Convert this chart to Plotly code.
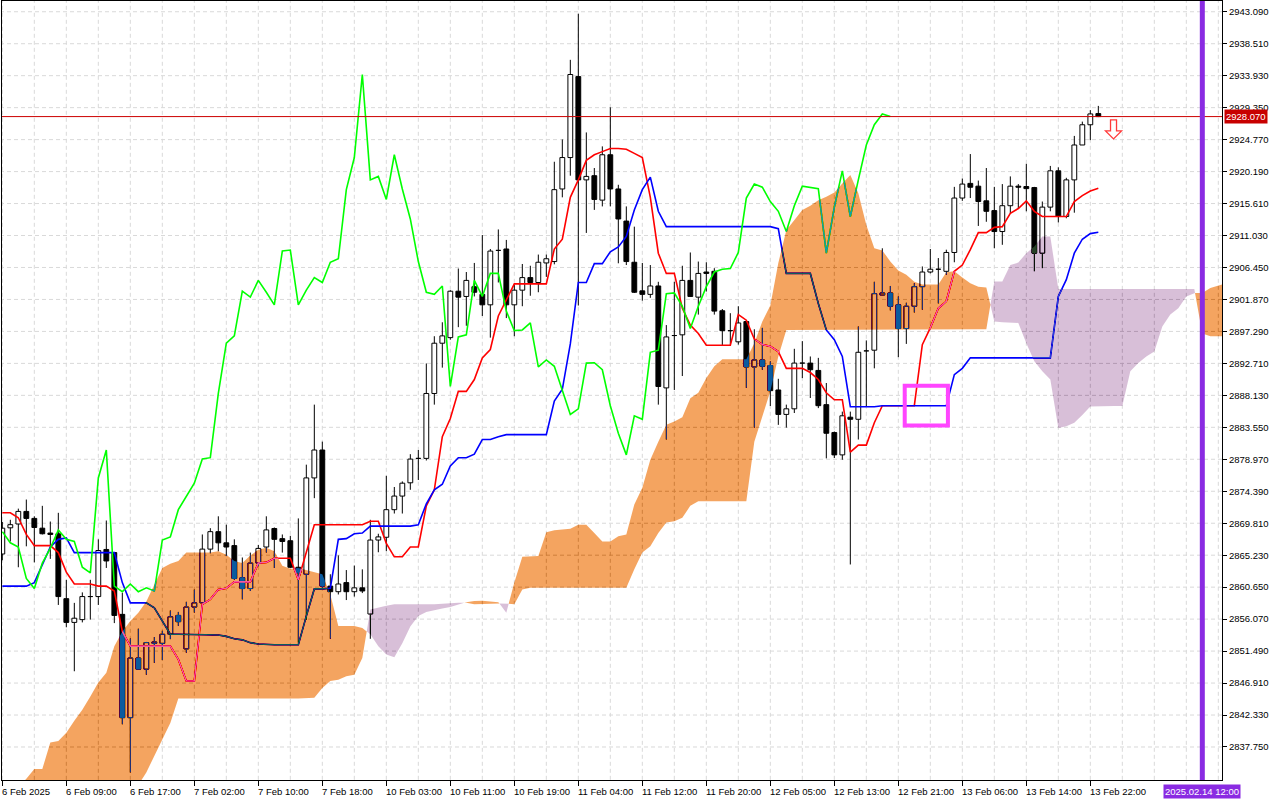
import plotly.graph_objects as go

# ---------------- data (hourly XAUUSD, bars indexed 0..137) ----------------
opens = [2865.4, 2869.15, 2869.7, 2871.5, 2870.5, 2869.1, 2868.4, 2868.3, 2859.0, 2855.6,
         2856.0, 2859.3, 2859.3, 2866.05, 2865.6, 2856.75, 2841.95, 2850.5, 2848.9, 2852.6,
         2852.6, 2853.9, 2856.6, 2851.8, 2857.8, 2858.4, 2866.1, 2868.6, 2867.0, 2866.6,
         2862.0, 2860.45, 2864.1, 2866.4, 2869.05, 2867.6, 2867.3, 2863.5, 2862.5, 2876.3,
         2880.3, 2860.8, 2860.0, 2861.3, 2860.0, 2860.55, 2856.8, 2867.4, 2867.8, 2871.75,
         2873.7, 2875.6, 2879.1, 2879.1, 2888.4, 2895.6, 2896.4, 2903.05, 2902.3, 2903.7,
         2902.6, 2901.1, 2908.9, 2909.1, 2901.1, 2903.2, 2905.0, 2904.3, 2907.1, 2907.3,
         2917.7, 2922.2, 2933.8, 2919.0, 2919.6, 2916.1, 2922.6, 2917.7, 2913.1, 2907.2,
         2903.1, 2902.6, 2903.8, 2889.2, 2896.7, 2896.8, 2904.6, 2902.2, 2905.8, 2905.9,
         2900.25, 2897.4, 2895.8, 2898.7, 2892.2, 2893.2, 2892.4, 2888.9, 2885.4, 2886.2,
         2892.75, 2892.75, 2891.7, 2886.8, 2882.8, 2879.6, 2885.0, 2884.7, 2894.5, 2894.6,
         2902.5, 2902.8, 2901.1, 2897.7, 2900.9, 2903.7, 2905.8, 2906.2, 2905.9, 2908.6,
         2916.4, 2918.5, 2918.1, 2916.0, 2914.6, 2911.6, 2915.3, 2918.1, 2918.05, 2917.9,
         2908.5, 2915.1, 2920.3, 2913.75, 2919.0, 2924.0, 2926.9, 2928.5]
highs = [2870.0, 2870.3, 2871.9, 2873.2, 2870.8, 2872.3, 2870.05, 2871.3, 2861.7, 2858.4,
         2859.9, 2861.7, 2867.5, 2870.2, 2865.6, 2859.85, 2853.3, 2854.7, 2852.8, 2853.5,
         2854.4, 2857.3, 2857.1, 2858.55, 2860.3, 2868.2, 2869.1, 2870.8, 2869.6, 2867.5,
         2864.9, 2865.6, 2866.7, 2870.8, 2869.2, 2868.2, 2868.0, 2870.5, 2878.2, 2886.8,
         2881.5, 2862.5, 2865.2, 2863.1, 2863.75, 2863.2, 2870.3, 2868.3, 2876.6, 2875.0,
         2875.8, 2879.7, 2880.3, 2892.7, 2896.6, 2898.6, 2903.2, 2906.3, 2905.8, 2907.1,
         2911.1, 2909.1, 2911.9, 2910.4, 2904.0, 2906.95, 2906.7, 2908.3, 2908.3, 2921.6,
         2924.8, 2936.2, 2942.8, 2925.8, 2920.7, 2923.8, 2929.4, 2918.3, 2915.2, 2912.3,
         2907.1, 2906.8, 2904.4, 2898.2, 2904.4, 2906.7, 2908.6, 2907.3, 2907.2, 2906.35,
         2900.5, 2899.9, 2900.9, 2898.8, 2897.6, 2897.8, 2893.0, 2890.5, 2886.8, 2894.8,
         2895.9, 2893.7, 2893.5, 2889.9, 2882.95, 2885.8, 2885.8, 2898.0, 2896.0, 2904.4,
         2909.2, 2903.8, 2902.3, 2901.4, 2904.2, 2906.6, 2909.1, 2907.8, 2909.0, 2918.0,
         2919.2, 2922.7, 2918.9, 2920.7, 2918.0, 2918.4, 2919.5, 2918.4, 2921.3, 2918.0,
         2915.9, 2921.0, 2920.8, 2919.3, 2925.3, 2927.35, 2929.0, 2929.6]
lows = [2864.5, 2867.2, 2863.5, 2866.5, 2864.2, 2868.2, 2864.7, 2858.1, 2854.9, 2848.6,
        2855.6, 2856.0, 2858.1, 2863.4, 2855.5, 2841.0, 2834.1, 2848.9, 2848.1, 2849.8,
        2850.2, 2853.2, 2855.1, 2851.25, 2857.0, 2858.4, 2865.5, 2865.8, 2865.1, 2861.7,
        2858.9, 2860.1, 2863.65, 2865.6, 2863.4, 2865.6, 2863.4, 2852.7, 2856.0, 2873.4,
        2860.55, 2853.25, 2859.6, 2858.8, 2859.3, 2859.8, 2853.25, 2865.65, 2865.8, 2871.2,
        2871.2, 2874.6, 2876.0, 2878.8, 2886.8, 2892.1, 2896.1, 2897.9, 2898.1, 2902.3,
        2899.5, 2896.4, 2904.3, 2899.2, 2896.6, 2900.9, 2902.4, 2902.9, 2905.1, 2906.9,
        2916.5, 2919.6, 2901.0, 2911.4, 2914.7, 2915.2, 2915.2, 2907.05, 2906.8, 2902.8,
        2901.7, 2902.1, 2886.8, 2881.8, 2888.9, 2890.9, 2902.3, 2899.7, 2903.0, 2899.7,
        2895.3, 2895.4, 2895.4, 2889.2, 2883.5, 2891.8, 2886.6, 2883.9, 2883.5, 2885.6,
        2890.6, 2887.75, 2886.3, 2879.1, 2879.15, 2878.9, 2863.9, 2881.8, 2886.6, 2892.0,
        2902.5, 2900.3, 2893.6, 2895.5, 2900.0, 2900.4, 2905.6, 2901.3, 2905.4, 2907.2,
        2916.0, 2916.4, 2912.4, 2913.0, 2909.2, 2909.7, 2914.2, 2914.9, 2914.5, 2905.9,
        2906.35, 2914.5, 2912.9, 2913.5, 2914.3, 2924.0, 2924.7, 2928.0]
closes = [2869.1, 2869.6, 2871.5, 2870.5, 2869.2, 2868.3, 2868.2, 2859.3, 2855.6, 2856.2,
          2859.3, 2859.4, 2865.9, 2864.4, 2856.6, 2841.95, 2850.5, 2848.9, 2852.7, 2852.8,
          2853.9, 2856.4, 2855.7, 2857.8, 2858.4, 2866.1, 2868.6, 2867.0, 2866.4, 2861.9,
          2860.45, 2864.1, 2866.2, 2868.85, 2867.5, 2867.2, 2863.5, 2862.7, 2876.3, 2880.3,
          2860.8, 2860.0, 2861.1, 2860.0, 2860.55, 2860.1, 2867.4, 2867.85, 2871.75, 2873.7,
          2875.55, 2879.0, 2879.2, 2888.4, 2895.6, 2896.65, 2903.05, 2902.2, 2904.6, 2902.9,
          2901.1, 2908.8, 2908.95, 2901.1, 2903.2, 2905.0, 2904.3, 2907.2, 2907.7, 2917.6,
          2922.2, 2934.1, 2919.0, 2919.5, 2916.2, 2922.6, 2917.7, 2913.4, 2907.3, 2902.9,
          2902.6, 2903.8, 2889.4, 2896.5, 2896.8, 2904.6, 2902.3, 2905.6, 2905.6, 2900.2,
          2897.4, 2897.5, 2898.5, 2892.2, 2893.2, 2892.3, 2888.8, 2885.4, 2886.2, 2892.75,
          2892.8, 2891.8, 2886.65, 2882.7, 2879.6, 2885.2, 2884.7, 2894.3, 2894.6, 2902.7,
          2902.8, 2900.9, 2897.7, 2900.9, 2903.7, 2905.8, 2906.2, 2906.3, 2908.6, 2916.4,
          2918.4, 2917.95, 2915.9, 2914.5, 2911.6, 2915.3, 2918.1, 2917.95, 2917.75, 2908.5,
          2915.1, 2920.3, 2913.75, 2919.0, 2924.0, 2926.9, 2928.45, 2928.07]

tenkan = [2871.3, 2871.3, 2870.6, 2868.2, 2866.6, 2866.6, 2866.6, 2865.6, 2862.8, 2861.1,
          2861.1, 2861.1, 2860.8, 2860.8, 2860.1, 2854.3, 2852.2, 2852.2, 2852.2, 2852.2,
          2852.2, 2852.2, 2850.3, 2847.2, 2847.2, 2858.2, 2858.9, 2860.3, 2860.5, 2861.4,
          2861.4, 2861.4, 2864.1, 2864.2, 2864.8, 2864.8, 2864.8, 2861.7, 2865.6, 2869.6,
          2869.6, 2869.6, 2869.6, 2869.6, 2869.6, 2869.6, 2870.1, 2870.1, 2866.9, 2865.0,
          2865.0, 2866.4, 2866.4, 2872.3, 2874.6, 2882.2, 2884.8, 2888.7, 2888.7, 2890.4,
          2893.5, 2894.7, 2899.5, 2901.75, 2904.1, 2904.1, 2904.1, 2904.1, 2904.1, 2909.1,
          2910.5, 2916.5, 2919.0, 2921.8, 2922.6, 2923.05, 2923.5, 2923.5, 2923.4, 2922.8,
          2922.2, 2916.5, 2908.5, 2905.6, 2905.6, 2900.6, 2898.2, 2897.0, 2895.3, 2895.3,
          2895.3, 2895.3, 2899.7, 2898.9, 2896.2, 2895.4, 2895.15, 2894.4, 2892.0, 2892.0,
          2892.0, 2891.4, 2890.4, 2888.5, 2887.5, 2887.5, 2880.0, 2881.0, 2881.0, 2884.2,
          2886.65, 2886.65, 2886.65, 2886.65, 2886.65, 2895.4, 2897.8, 2900.6, 2901.6, 2905.9,
          2906.8, 2909.0, 2911.45, 2911.45, 2912.2, 2912.3, 2914.2, 2914.9, 2916.0, 2914.5,
          2913.75, 2913.75, 2913.75, 2913.75, 2915.9, 2916.75, 2917.4, 2917.8]
kijun = [2860.8, 2860.8, 2860.8, 2860.8, 2861.3, 2863.8, 2866.4, 2867.5, 2867.7, 2865.6,
         2865.6, 2865.6, 2865.6, 2865.6, 2865.6, 2861.3, 2858.4, 2858.4, 2858.4, 2857.7,
         2855.8, 2853.9, 2853.9, 2853.9, 2853.9, 2853.8, 2853.8, 2853.8, 2853.6, 2853.25,
         2853.1, 2852.7, 2852.5, 2852.4, 2852.4, 2852.4, 2852.4, 2852.4, 2856.5, 2860.4,
         2860.4, 2860.5, 2867.5, 2867.6, 2868.3, 2868.4, 2869.4, 2869.4, 2869.4, 2869.4,
         2869.4, 2869.4, 2869.6, 2872.6, 2874.6, 2875.4, 2878.0, 2879.2, 2879.2, 2879.7,
         2881.8, 2881.8, 2882.2, 2882.5, 2882.5, 2882.5, 2882.5, 2882.5, 2882.5, 2887.3,
         2889.0, 2895.5, 2904.3, 2904.3, 2907.0, 2907.0, 2908.7, 2909.4, 2910.9, 2914.7,
         2917.6, 2919.4, 2914.5, 2912.3, 2912.3, 2912.3, 2912.3, 2912.3, 2912.3, 2912.3,
         2912.3, 2912.3, 2912.3, 2912.3, 2912.3, 2912.3, 2912.3, 2912.0, 2905.6, 2905.6,
         2905.6, 2905.6, 2901.3, 2897.5, 2896.1, 2893.7, 2886.5, 2886.5, 2886.5, 2886.5,
         2886.65, 2886.65, 2886.65, 2886.65, 2886.65, 2886.65, 2886.65, 2886.65, 2886.65, 2891.1,
         2892.0, 2893.5, 2893.5, 2893.5, 2893.5, 2893.5, 2893.5, 2893.5, 2893.5, 2893.5,
         2893.5, 2893.5, 2902.3, 2904.7, 2908.5, 2910.5, 2911.3, 2911.5]
# Senkou spans, already shifted 26 bars forward (bars 0..153)
span_a = [2829.0, 2830.5, 2832.0, 2833.2, 2834.6, 2834.6, 2838.4, 2838.6, 2839.8, 2841.5,
          2843.1, 2845.0, 2847.0, 2848.4, 2852.2, 2854.3, 2855.8, 2857.0, 2858.6, 2861.0,
          2863.4, 2864.0, 2864.4, 2865.6, 2865.6, 2865.6, 2865.6, 2865.8, 2865.3, 2864.4,
          2864.1, 2865.2, 2866.0, 2866.3, 2865.8, 2863.7, 2863.3, 2863.4, 2863.1, 2862.9,
          2862.5, 2859.6, 2855.1, 2855.1, 2855.1, 2854.8, 2853.9, 2852.2, 2851.0, 2850.6,
          2852.6, 2855.0, 2856.5, 2857.1, 2857.4, 2857.6, 2857.8, 2858.1, 2858.5, 2858.65,
          2858.7, 2858.6, 2858.5, 2857.0, 2861.3, 2865.0, 2865.0, 2865.1, 2868.5, 2868.8,
          2868.9, 2869.0, 2869.6, 2869.6, 2868.4, 2867.2, 2867.2, 2867.95, 2868.2, 2872.5,
          2874.9, 2878.9, 2881.5, 2883.9, 2884.4, 2885.0, 2887.7, 2888.5, 2890.6, 2892.3,
          2893.3, 2893.3, 2893.3, 2893.3, 2895.6, 2898.7, 2901.0, 2907.1, 2911.8, 2913.3,
          2914.7, 2915.3, 2916.1, 2916.6, 2917.2, 2918.5, 2919.7, 2917.1, 2912.55, 2909.2,
          2908.9, 2907.3, 2906.0, 2905.4, 2904.4, 2904.0, 2904.0, 2904.0, 2905.75, 2905.9,
          2905.0, 2904.2, 2903.7, 2903.6, 2898.7, 2898.6, 2898.5, 2898.5, 2895.6, 2893.0,
          2891.6, 2890.4, 2883.45, 2883.7, 2884.2, 2885.3, 2886.55, 2886.6, 2886.6, 2886.6,
          2886.6, 2891.6, 2892.75, 2893.7, 2894.4, 2898.0, 2899.7, 2900.6, 2902.3, 2902.8,
          2902.8, 2903.5, 2903.9, 2904.2]
span_b = [2826.0, 2826.0, 2826.0, 2826.0, 2826.0, 2826.0, 2826.0, 2826.0, 2826.0, 2826.0,
          2826.0, 2826.0, 2826.0, 2826.0, 2826.0, 2826.0, 2830.0, 2832.3, 2834.1, 2836.5,
          2838.9, 2841.2, 2844.7, 2844.7, 2844.7, 2844.7, 2844.7, 2844.7, 2844.7, 2844.7,
          2844.7, 2844.7, 2844.7, 2844.7, 2844.7, 2844.7, 2844.7, 2844.7, 2844.7, 2844.8,
          2846.2, 2847.2, 2847.4, 2847.9, 2848.1, 2850.5, 2857.45, 2857.7, 2858.0, 2858.2,
          2858.2, 2858.2, 2858.2, 2858.2, 2858.2, 2858.3, 2858.3, 2858.4, 2858.4, 2858.2,
          2858.2, 2858.2, 2858.3, 2858.3, 2858.2, 2860.3, 2860.55, 2860.55, 2860.55, 2860.55,
          2860.55, 2860.55, 2860.55, 2860.55, 2860.55, 2860.55, 2860.55, 2860.55, 2860.55, 2863.2,
          2865.6, 2866.5, 2868.4, 2869.9, 2870.1, 2870.6, 2872.3, 2872.95, 2872.95, 2872.95,
          2872.95, 2872.95, 2872.95, 2872.95, 2881.5, 2885.1, 2888.7, 2893.7, 2897.5, 2897.5,
          2897.5, 2897.5, 2897.5, 2897.5, 2897.5, 2897.5, 2897.5, 2897.5, 2897.5, 2897.5,
          2897.5, 2897.5, 2897.5, 2897.5, 2897.5, 2897.5, 2897.5, 2897.5, 2897.5, 2897.5,
          2897.6, 2897.6, 2897.6, 2897.6, 2904.45, 2904.45, 2906.8, 2907.15, 2908.5, 2909.45,
          2910.9, 2910.9, 2903.35, 2903.35, 2903.35, 2903.35, 2903.35, 2903.35, 2903.35, 2903.35,
          2903.35, 2903.35, 2903.35, 2903.35, 2903.35, 2903.35, 2903.35, 2903.35, 2903.35, 2903.35,
          2897.0, 2896.6, 2896.6, 2896.6]
chikou_shift = 26

label_bars = [0, 8, 16, 24, 32, 40, 48, 56, 64, 72, 80, 88, 96, 104, 112, 120, 128, 136]
label_texts = ["6 Feb 2025", "6 Feb 09:00", "6 Feb 17:00", "7 Feb 02:00", "7 Feb 10:00",
               "7 Feb 18:00", "10 Feb 03:00", "10 Feb 11:00", "10 Feb 19:00", "11 Feb 04:00",
               "11 Feb 12:00", "11 Feb 20:00", "12 Feb 05:00", "12 Feb 13:00", "12 Feb 21:00",
               "13 Feb 06:00", "13 Feb 14:00", "13 Feb 22:00"]
grid_bars = list(range(0, 153, 4))
price_ticks = [2837.75, 2842.33, 2846.91, 2851.49, 2856.07, 2860.65, 2865.23, 2869.81,
               2874.39, 2878.97, 2883.55, 2888.13, 2892.71, 2897.29, 2901.87, 2906.45,
               2911.03, 2915.61, 2920.19, 2924.77, 2929.35, 2933.93, 2938.51, 2943.09]

current_price = 2928.07
future_bar = 150
future_label = "2025.02.14 12:00"
rect_bars = [112.8, 118.2]
rect_prices = [2883.8, 2889.5]
arrow_bar = 138.9
arrow_price = 2927.6

X_RANGE = [-0.04, 152.46]
Y_RANGE = [2833.02, 2944.63]

# ---------------- build traces ----------------
FONT = "Liberation Sans"
n = len(closes)
bars = list(range(n))
traces = []

# 0: white backdrop inside the plot group (needed for the XOR-like cloud blending)
bx0, bx1 = X_RANGE[0] - 2, X_RANGE[1] + 2
by0, by1 = Y_RANGE[0] - 10, Y_RANGE[1] + 10
traces.append(go.Scatter(x=[bx0, bx1, bx1, bx0, bx0], y=[by0, by0, by1, by1, by0],
                         mode="lines", fill="toself", fillcolor="white",
                         line=dict(width=0), hoverinfo="skip"))

# 1: grid
gx, gy = [], []
for b in grid_bars:
    gx += [b, b, None]
    gy += [by0, by1, None]
for p in price_ticks:
    gx += [bx0, bx1, None]
    gy += [p, p, None]
traces.append(go.Scatter(x=gx, y=gy, mode="lines",
                         line=dict(color="#d9d9d9", width=1, dash="4px,3px"), hoverinfo="skip"))

# 2: wicks
wx, wy = [], []
for i in bars:
    wx += [i, i, None]
    wy += [lows[i], highs[i], None]
traces.append(go.Scatter(x=wx, y=wy, mode="lines", line=dict(color="black", width=1), hoverinfo="skip"))

# 3/4: bodies
hw = 0.3
ux, uy, dx, dy = [], [], [], []
for i in bars:
    o, c = opens[i], closes[i]
    xs = [i - hw, i + hw, i + hw, i - hw, i - hw, None]
    ys = [o, o, c, c, o, None]
    if c >= o:
        ux += xs; uy += ys
    else:
        dx += xs; dy += ys
traces.append(go.Scatter(x=ux, y=uy, mode="lines", fill="toself", fillcolor="white",
                         line=dict(color="black", width=1), hoverinfo="skip"))
traces.append(go.Scatter(x=dx, y=dy, mode="lines", fill="toself", fillcolor="black",
                         line=dict(color="black", width=1), hoverinfo="skip"))

# 5-7: Ichimoku lines
traces.append(go.Scatter(x=bars, y=tenkan, mode="lines", line=dict(color="#ff0000", width=1.6), hoverinfo="skip"))
traces.append(go.Scatter(x=bars, y=kijun, mode="lines", line=dict(color="#0000ff", width=1.6), hoverinfo="skip"))
ch_x = [i - chikou_shift for i in bars if i >= chikou_shift]
ch_y = [closes[i] for i in bars if i >= chikou_shift]
traces.append(go.Scatter(x=ch_x, y=ch_y, mode="lines", line=dict(color="#00ff00", width=1.6), hoverinfo="skip"))

# 8/9: cloud (drawn with a difference blend, which reproduces MT4's XOR fill)
def cloud_polys(A, B):
    polys = {True: [], False: []}
    xs = list(range(len(A)))
    cur = A[0] >= B[0]
    top, bot = [(xs[0], A[0])], [(xs[0], B[0])]
    for k in range(1, len(A)):
        s = A[k] >= B[k]
        if s != cur:
            d0 = A[k - 1] - B[k - 1]
            d1 = A[k] - B[k]
            t = d0 / (d0 - d1)
            xc = xs[k - 1] + t
            yc = A[k - 1] + t * (A[k] - A[k - 1])
            top.append((xc, yc)); bot.append((xc, yc))
            polys[cur].append(top + bot[::-1])
            top, bot = [(xc, yc)], [(xc, yc)]
            cur = s
        top.append((xs[k], A[k])); bot.append((xs[k], B[k]))
    polys[cur].append(top + bot[::-1])
    return polys

polys = cloud_polys(span_a, span_b)
for key, col in [(True, "rgb(11,91,159)"), (False, "rgb(39,64,39)")]:
    px, py = [], []
    for poly in polys[key]:
        px += [p[0] for p in poly] + [poly[0][0], None]
        py += [p[1] for p in poly] + [poly[0][1], None]
    traces.append(go.Scatter(x=px, y=py, mode="lines", fill="toself", fillcolor=col,
                             line=dict(width=0, color=col), hoverinfo="skip"))

fig = go.Figure(traces)

# ---------------- shapes & annotations ----------------
shapes = [
    dict(type="line", xref="paper", yref="y", x0=0, x1=1, y0=current_price, y1=current_price,
         line=dict(color="#cc0000", width=1)),
    dict(type="line", xref="x", yref="paper", x0=future_bar, x1=future_bar, y0=0, y1=1,
         line=dict(color="#8a2be2", width=5)),
    dict(type="rect", xref="x", yref="y", x0=rect_bars[0], x1=rect_bars[1],
         y0=rect_prices[0], y1=rect_prices[1], line=dict(color="#ff45ff", width=4)),
    dict(type="path", xref="x", yref="y", xsizemode="pixel", ysizemode="pixel",
         xanchor=arrow_bar, yanchor=arrow_price,
         path="M -3 0 L 3 0 L 3 -11 L 8 -11 L 0 -19 L -8 -11 L -3 -11 Z",
         line=dict(color="#ff3a3a", width=1.3), fillcolor="white"),
]

annotations = []
for b, t in zip(label_bars, label_texts):
    annotations.append(dict(x=b, y=0, xref="x", yref="paper", text=t, showarrow=False,
                            xanchor="left", yanchor="top", xshift=-2, yshift=-4,
                            font=dict(family=FONT, size=9.5, color="black")))
annotations.append(dict(x=1, xref="paper", y=current_price, yref="y", text=f"{current_price:.3f}",
                        showarrow=False, xanchor="left", yanchor="middle", xshift=2,
                        bgcolor="#c80000", borderpad=1,
                        font=dict(family=FONT, size=9.5, color="white")))
annotations.append(dict(x=future_bar, xref="x", y=0, yref="paper", text=future_label,
                        showarrow=False, xanchor="center", yanchor="top", yshift=-4,
                        bgcolor="#8a2be2", borderpad=1,
                        font=dict(family=FONT, size=9.5, color="white")))

fig.update_layout(
    width=1280, height=800,
    margin=dict(l=2, r=58, t=1, b=20),
    paper_bgcolor="white", plot_bgcolor="white",
    showlegend=False, hovermode=False,
    font=dict(family=FONT, size=9.5, color="black"),
    xaxis=dict(range=X_RANGE, showgrid=False, zeroline=False, showline=True, mirror=True,
               linecolor="black", linewidth=1, ticks="outside", ticklen=5, tickcolor="black",
               tickvals=label_bars, showticklabels=False, fixedrange=True),
    yaxis=dict(range=Y_RANGE, side="right", showgrid=False, zeroline=False, showline=True,
               mirror=True, linecolor="black", linewidth=1, ticks="outside", ticklen=4,
               tickcolor="black", tickvals=price_ticks, tickformat=".3f",
               tickfont=dict(family=FONT, size=9.5, color="black"), fixedrange=True),
    shapes=shapes, annotations=annotations,
)

k1 = len(traces) - 1  # nth-child is 1-based: last two traces
post = (
    "var st=document.createElement('style');"
    "st.innerHTML='.scatterlayer > .trace:nth-child(%d), .scatterlayer > .trace:nth-child(%d)"
    "{mix-blend-mode:difference;}';"
    "document.head.appendChild(st);"
    "document.body.style.margin='0';" % (k1, k1 + 1)
)

fig.write_html("out.html", post_script=post, config={"displayModeBar": False, "staticPlot": True})
